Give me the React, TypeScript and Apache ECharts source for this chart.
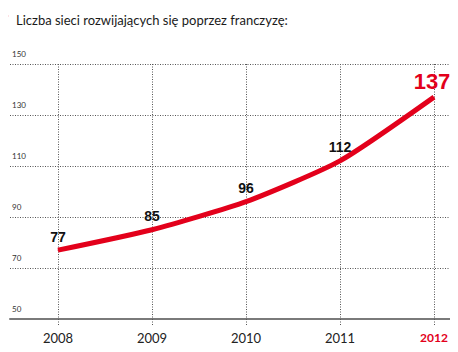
import React, { useEffect, useRef } from "react";
import * as echarts from "echarts";

const years = ["2008", "2009", "2010", "2011", "2012"];
const values = [77, 85, 96, 112, 137];
const yMin = 50;
const yMax = 150;
const yStep = 20;
const title = "Liczba sieci rozwijających się poprzez franczyzę:";

const RED = "#e3001b";
const DOT = { color: "#555", type: [1, 1.5], width: 1 };

export default function App() {
  const ref = useRef<HTMLDivElement>(null);
  useEffect(() => {
    if (!ref.current) return;
    const chart = echarts.init(ref.current, null, { renderer: "svg" });
    const last = values.length - 1;
    chart.setOption({
      animation: false,
      backgroundColor: "#fff",
      textStyle: { fontFamily: "Lato" },
      title: {
        text: title,
        left: 11,
        top: 8,
        textStyle: { fontFamily: "Lato", fontSize: 13, fontWeight: "normal", color: "#1a1a1a" },
      },
      graphic: [
        { type: "circle", shape: { cx: 5, cy: 16, r: 2.5 }, style: { fill: "none", stroke: RED, lineWidth: 1.4, lineDash: [1, 1] } },
      ],
      grid: [
        { left: 10, right: 3, top: 64, bottom: 33 },
        { left: 58, right: 24, top: 64, bottom: 33 },
      ],
      xAxis: [
        {
          gridIndex: 0,
          type: "value",
          min: 0,
          max: 1,
          axisLine: { show: true, lineStyle: { color: "#7a7a7a", width: 2 } },
          axisTick: { show: false },
          axisLabel: { show: false },
          splitLine: { show: false },
        },
        {
          gridIndex: 1,
          type: "category",
          boundaryGap: false,
          data: years,
          axisLine: { show: false },
          axisTick: { show: true, length: 6, lineStyle: DOT },
          axisLabel: {
            margin: 12,
            fontSize: 13,
            color: "#222",
            fontFamily: "Lato",
            formatter: (v: string, i: number) => (i === years.length - 1 ? `{hl|${v}}` : v),
            rich: { hl: { color: RED, fontWeight: "bold", fontSize: 12, fontFamily: "Lato" } },
          },
          splitLine: { show: true, lineStyle: DOT },
        },
      ],
      yAxis: [
        {
          gridIndex: 0,
          type: "value",
          min: yMin,
          max: yMax,
          interval: yStep,
          axisLine: { show: false },
          axisTick: { show: false },
          axisLabel: {
            inside: true,
            margin: 2,
            verticalAlign: "bottom",
            padding: [0, 0, 6, 0],
            fontSize: 8,
            color: "#333",
          },
          splitLine: { show: true, lineStyle: DOT },
        },
        {
          gridIndex: 1,
          type: "value",
          min: yMin,
          max: yMax,
          show: false,
          splitLine: { show: false },
        },
      ],
      series: [
        {
          type: "line",
          xAxisIndex: 1,
          yAxisIndex: 1,
          smooth: 0.2,
          symbol: "circle",
          symbolSize: 1,
          showSymbol: true,
          itemStyle: { color: RED },
          lineStyle: { color: RED, width: 5 },
          data: values.map((v, i) =>
            i === last
              ? { value: v, label: { color: RED, fontSize: 22, fontWeight: "bold", distance: 4, offset: [-2, 0] } }
              : v
          ),
          label: {
            show: true,
            position: "top",
            distance: 6,
            fontSize: 14,
            fontWeight: "bold",
            color: "#111",
            fontFamily: "Liberation Sans",
          },
        },
      ],
    });
    return () => chart.dispose();
  }, []);
  return <div ref={ref} style={{ width: 458, height: 352, margin: -8 }} />;
}
